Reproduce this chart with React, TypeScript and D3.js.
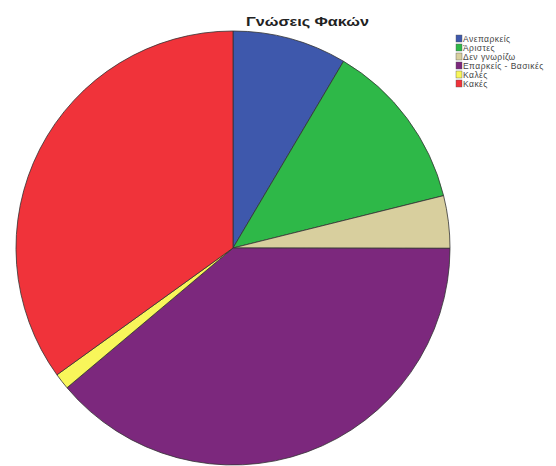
import React from "react";
import * as d3 from "d3";

const categories = ["Ανεπαρκείς", "Άριστες", "Δεν γνωρίζω", "Επαρκείς - Βασικές", "Καλές", "Κακές"];
const values = [8.5, 12.6, 3.9, 38.8, 1.2, 34.9];
const colors = ["#3E58AC", "#2EB848", "#D8CF9E", "#7C287D", "#F8F65A", "#F0333A"];
const title = "Γνώσεις Φακών";

const W = 556, H = 466;
const cx = 233, cy = 248, R = 217;

export default function App() {
  const pie = d3.pie<number>().sort(null).value((d) => d);
  const arcs = pie(values);
  const arc = d3.arc<d3.PieArcDatum<number>>().innerRadius(0).outerRadius(R);
  return (
    <svg width={W} height={H} style={{ position: "absolute", left: 0, top: 0, background: "#fff" }}
      fontFamily="Liberation Sans, Arial, sans-serif">
      <g transform={`translate(${cx},${cy})`}>
        {arcs.map((a, i) => (
          <path key={i} d={arc(a) || ""} fill={colors[i]} stroke="#333" strokeWidth={0.8} strokeLinejoin="round" />
        ))}
      </g>
      <text x={246} y={26} fontSize={12.5} fontWeight="bold" fill="#222" textLength={123} lengthAdjust="spacingAndGlyphs">{title}</text>
      <g transform="translate(456,35)">
        {categories.map((c, i) => (
          <g key={c} transform={`translate(0,${i * 9})`}>
            <rect x={0} y={0} width={6} height={7} fill={colors[i]} stroke="#555" strokeWidth={0.4} />
            <text x={7} y={6.5} fontSize={8.5} fill="#444" letterSpacing={0.45}>{c}</text>
          </g>
        ))}
      </g>
    </svg>
  );
}
